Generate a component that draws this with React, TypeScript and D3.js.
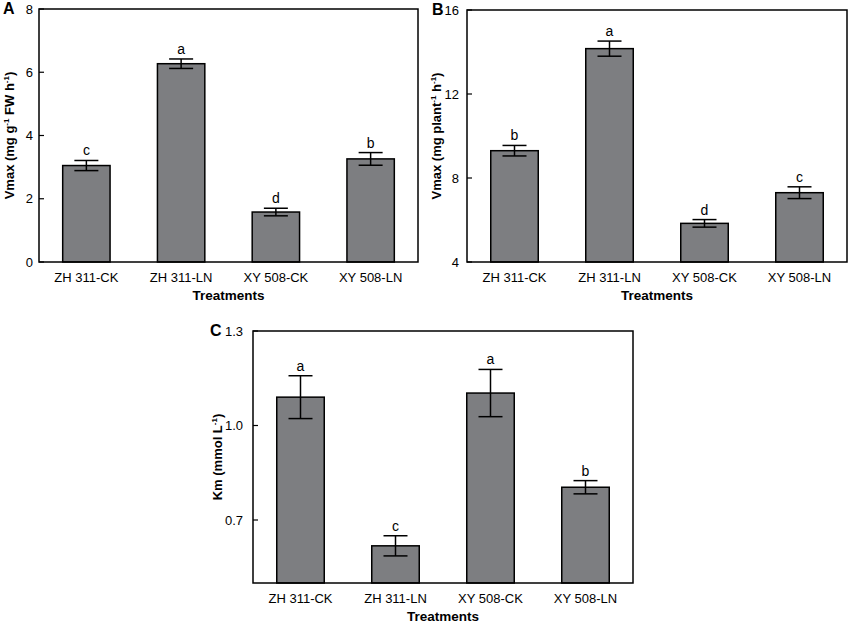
import React from 'react';
import * as d3 from 'd3';

const treatments = ['ZH 311-CK', 'ZH 311-LN', 'XY 508-CK', 'XY 508-LN'];

// panel A: Vmax per g FW
const vmaxFw = [3.05, 6.27, 1.58, 3.26];
const vmaxFwErr = [0.16, 0.15, 0.12, 0.2];
const vmaxFwLetters = ['c', 'a', 'd', 'b'];

// panel B: Vmax per plant
const vmaxPlant = [9.3, 14.16, 5.84, 7.3];
const vmaxPlantErr = [0.25, 0.36, 0.18, 0.28];
const vmaxPlantLetters = ['b', 'a', 'd', 'c'];

// panel C: Km
const km = [1.09, 0.618, 1.103, 0.804];
const kmErr = [0.068, 0.032, 0.075, 0.021];
const kmLetters = ['a', 'c', 'a', 'b'];

const ticksA = [0, 2, 4, 6, 8];
const ticksB = [4, 8, 12, 16];
const ticksC = [0.7, 1.0, 1.3];

// y labels as [text, superscript?] pieces
const labelA = [['Vmax (mg g', false], ['-1', true], [' FW h', false], ['-1', true], [')', false]];
const labelB = [['Vmax (mg plant', false], ['-1', true], [' h', false], ['-1', true], [')', false]];
const labelC = [['Km (mmol L', false], ['-1', true], [')', false]];

const font = 'Arial, "Liberation Sans", Helvetica, sans-serif';

const Panel = ({ tag, tagX, left, right, top, bottom, domain, ticks, fmt, values, errs, letters, yLabel, labelX, gap }) => {
  const x = d3.scaleBand().domain(treatments).range([left, right]).paddingInner(0.5).paddingOuter(0.25);
  const y = d3.scaleLinear().domain(domain).range([bottom, top]);
  const cap = 12;
  const midY = (top + bottom) / 2;

  let shift = 0;
  const pieces = yLabel.map(([t, sup], i) => {
    const dy = sup ? -5 - shift : -shift;
    shift = sup ? -5 : 0;
    return <tspan key={i} dy={dy} fontSize={sup ? 8 : 13}>{t}</tspan>;
  });

  return (
    <g>
      <text x={tagX} y={top + 5} fontSize={16} fontWeight="bold">{tag}</text>

      {values.map((v, i) => {
        const cx = x(treatments[i]) + x.bandwidth() / 2;
        const hi = y(v + errs[i]);
        const lo = y(v - errs[i]);
        return (
          <g key={i}>
            <rect x={x(treatments[i])} y={y(v)} width={x.bandwidth()} height={bottom - y(v)}
              fill="#7d7e81" stroke="#000" strokeWidth={1.5} />
            <line x1={cx} x2={cx} y1={hi} y2={lo} stroke="#000" strokeWidth={1.5} />
            <line x1={cx - cap} x2={cx + cap} y1={hi} y2={hi} stroke="#000" strokeWidth={1.5} />
            <line x1={cx - cap} x2={cx + cap} y1={lo} y2={lo} stroke="#000" strokeWidth={1.5} />
            <text x={cx} y={hi - 5} textAnchor="middle" fontSize={14}>{letters[i]}</text>
          </g>
        );
      })}

      <rect x={left} y={top} width={right - left} height={bottom - top} fill="none" stroke="#000" strokeWidth={1.5} />

      {ticks.map(t => (
        <g key={t}>
          <line x1={left} x2={left + 5} y1={y(t)} y2={y(t)} stroke="#000" strokeWidth={1.2} />
          <text x={left - gap} y={y(t)} dy="0.35em" textAnchor="end" fontSize={13}>{fmt(t)}</text>
        </g>
      ))}

      {treatments.map(c => (
        <text key={c} x={x(c) + x.bandwidth() / 2} y={bottom + 20} textAnchor="middle" fontSize={13}>{c}</text>
      ))}
      <text x={(left + right) / 2} y={bottom + 38} textAnchor="middle" fontSize={13.5} fontWeight="bold">Treatments</text>

      <text transform={`translate(${labelX},${midY}) rotate(-90)`} textAnchor="middle" fontSize={13} fontWeight="bold">
        {pieces}
      </text>
    </g>
  );
};

export default function App() {
  return (
    <svg width={850} height={624} style={{ position: 'absolute', left: 0, top: 0, background: '#fff' }}
      fontFamily={font}>
      <Panel tag="A" tagX={3} left={39} right={418} top={9} bottom={262} domain={[0, 8]} ticks={ticksA}
        fmt={d3.format('d')} values={vmaxFw} errs={vmaxFwErr} letters={vmaxFwLetters}
        yLabel={labelA} labelX={14} gap={6} />
      <Panel tag="B" tagX={432} left={467} right={847} top={10} bottom={262} domain={[4, 16]} ticks={ticksB}
        fmt={d3.format('d')} values={vmaxPlant} errs={vmaxPlantErr} letters={vmaxPlantLetters}
        yLabel={labelB} labelX={441} gap={8} />
      <Panel tag="C" tagX={210} left={253} right={633} top={331} bottom={583} domain={[0.5, 1.3]} ticks={ticksC}
        fmt={d3.format('.1f')} values={km} errs={kmErr} letters={kmLetters}
        yLabel={labelC} labelX={222} gap={10} />
    </svg>
  );
}
